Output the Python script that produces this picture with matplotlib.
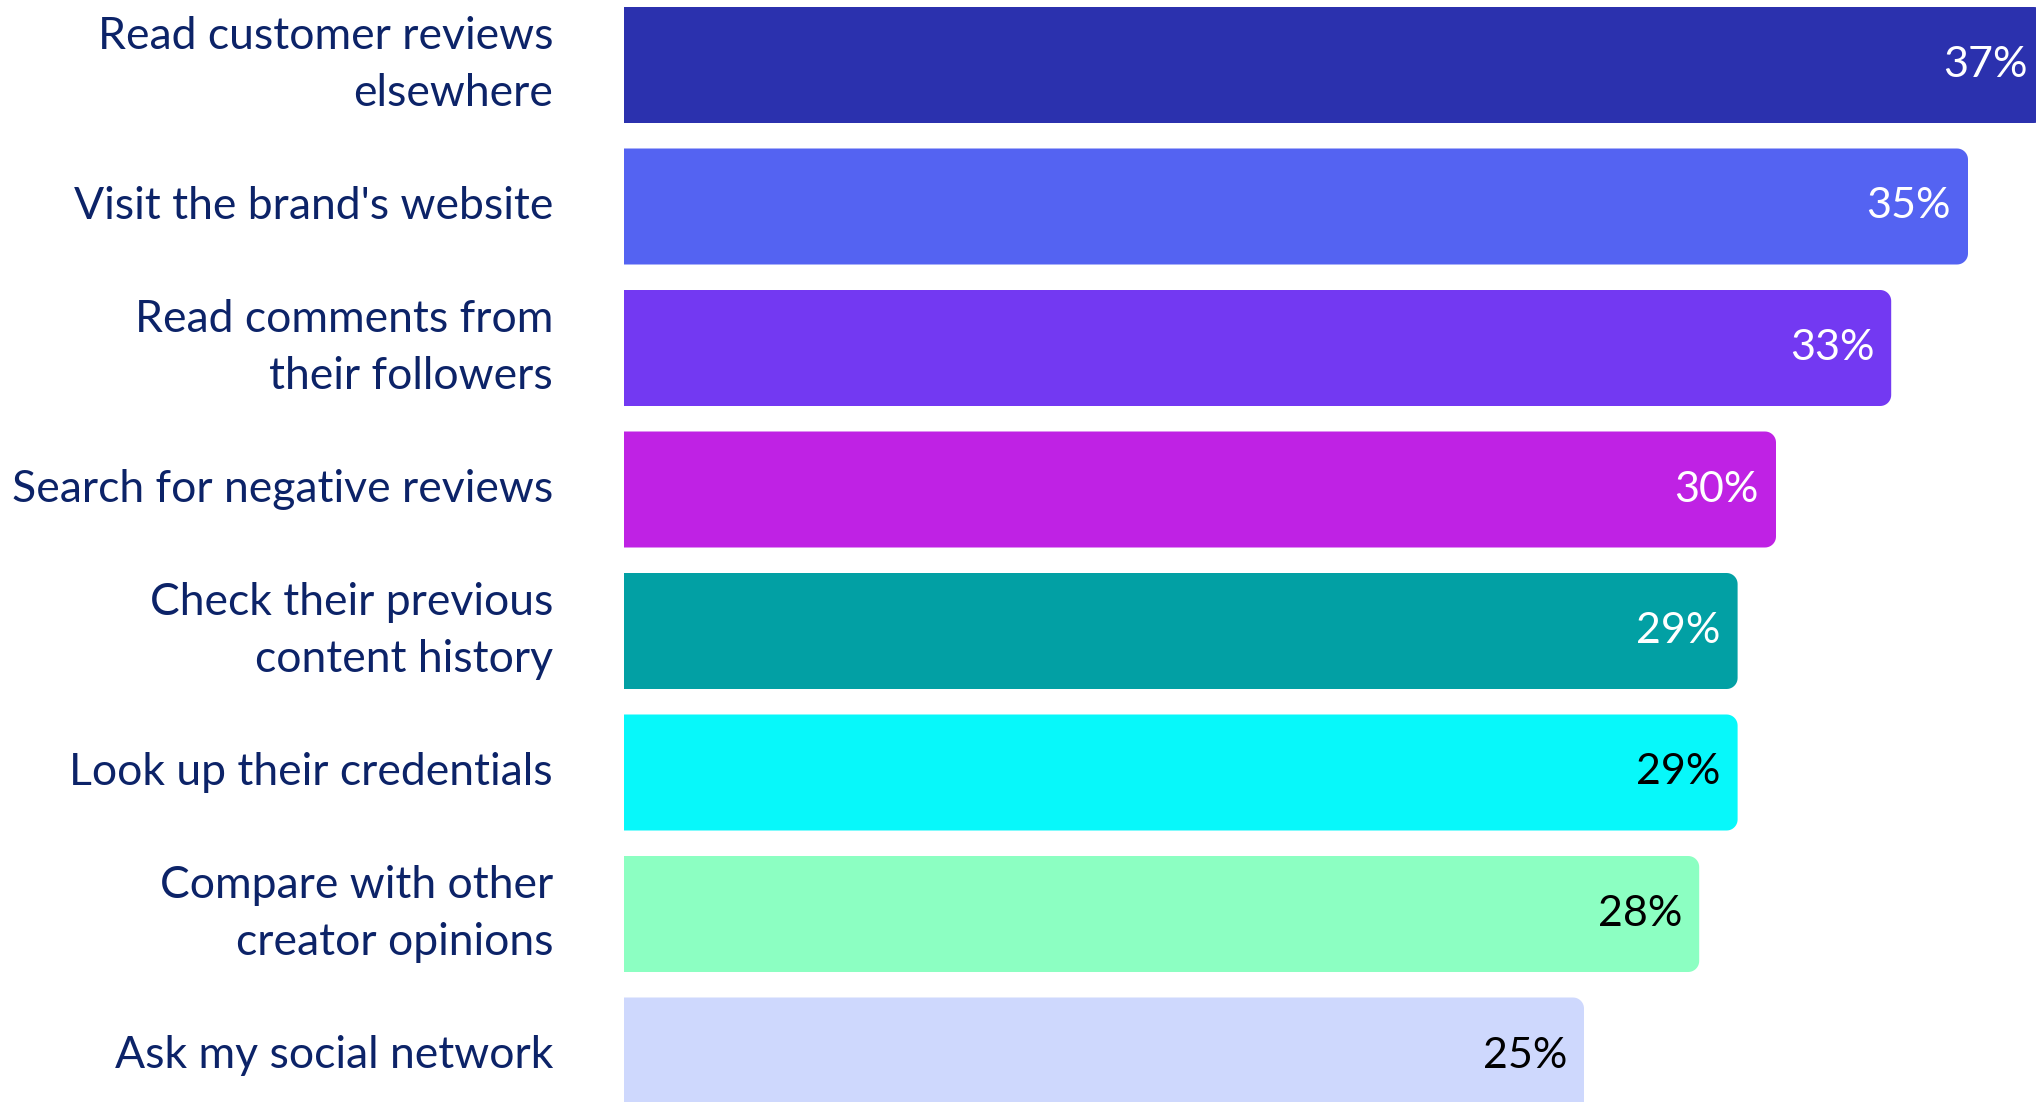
import numpy as np
import matplotlib
matplotlib.use("Agg")
import matplotlib.pyplot as plt
from matplotlib.path import Path
from matplotlib.patches import PathPatch

# Survey answers, top to bottom
categories = [
    "Read customer reviews\nelsewhere",
    "Visit the brand's website",
    "Read comments from\ntheir followers",
    "Search for negative reviews",
    "Check their previous\ncontent history",
    "Look up their credentials",
    "Compare with other\ncreator opinions",
    "Ask my social network",
]
values = [37, 35, 33, 30, 29, 29, 28, 25]
bar_colors = ["#2B31AE", "#5463F2", "#7339F2", "#BF22E4",
              "#02A0A4", "#07F8FA", "#8CFFC2", "#CED8FD"]
value_colors = ["white", "white", "white", "white", "white",
                "black", "black", "black"]

W, H = 2036, 1102
DPI = 100
px_per_unit = 38.4        # pixels per percentage point
left_px = 624             # where the bars start
pitch_px = 141.5          # vertical distance between bars
first_center_px = 65

plt.rcParams["font.family"] = ["Lato", "DejaVu Sans"]

fig = plt.figure(figsize=(W / DPI, H / DPI), dpi=DPI)
ax = fig.add_axes([left_px / W, 0, 1 - left_px / W, 1])
ax.set_xlim(0, (W - left_px) / px_per_unit)
ax.set_ylim((H - first_center_px) / pitch_px, -first_center_px / pitch_px)
ax.axis("off")

bar_h = 116 / pitch_px
radius_px = 11
rx = radius_px / px_per_unit
ry = radius_px / pitch_px


def right_rounded_bar(y_center, length):
    """Closed path of a bar with square left end and rounded right corners."""
    y0, y1 = y_center - bar_h / 2, y_center + bar_h / 2
    t1 = np.linspace(-np.pi / 2, 0, 12)
    t2 = np.linspace(0, np.pi / 2, 12)
    xs = [0.0]
    ys = [y0]
    xs += list(length - rx + rx * np.cos(t1))
    ys += list(y0 + ry + ry * np.sin(t1))
    xs += list(length - rx + rx * np.cos(t2))
    ys += list(y1 - ry + ry * np.sin(t2))
    xs += [0.0, 0.0]
    ys += [y1, y0]
    verts = np.column_stack([xs, ys])
    codes = [Path.MOVETO] + [Path.LINETO] * (len(verts) - 2) + [Path.CLOSEPOLY]
    return Path(verts, codes)


for i, (v, c) in enumerate(zip(values, bar_colors)):
    ax.add_patch(PathPatch(right_rounded_bar(i, v), facecolor=c,
                           edgecolor="none", linewidth=0))
    ax.text(v - 17 / px_per_unit, i, f"{v}%", ha="right", va="center",
            fontsize=31, color=value_colors[i])

label_x = -(left_px - 553) / px_per_unit
for i, lab in enumerate(categories):
    ax.text(label_x, i, lab, ha="right", va="center", fontsize=32,
            color="#0C2368", linespacing=1.48, clip_on=False)

fig.savefig("out.png", dpi=DPI, facecolor="white")
